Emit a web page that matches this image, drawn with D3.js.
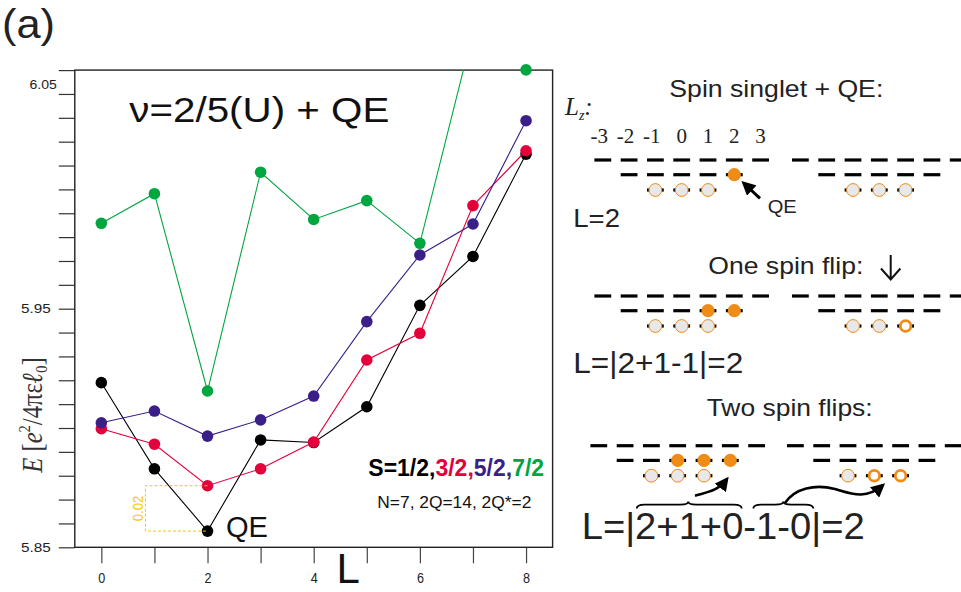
<!DOCTYPE html>
<html><head><meta charset="utf-8">
<script src="https://cdn.jsdelivr.net/npm/d3@7"></script>
<style>body{margin:0;background:#fff;} svg{display:block;}</style>
</head><body>
<svg id="c" width="961" height="592"></svg>
<script>
// ---------------- data ----------------
const Lvals = [0,1,2,3,4,5,6,7,8];
const spinLabels = ["1/2","3/2","5/2","7/2"];
const S12 = [5.9190,5.8829,5.8568,5.8950,5.8939,5.9089,5.9514,5.9719,6.0148];
const S32 = [5.8997,5.8932,5.8758,5.8829,5.8941,5.9285,5.9397,5.9932,6.0162];
const S52 = [5.9022,5.9071,5.8966,5.9034,5.9134,5.9446,5.9725,5.9855,6.0288];
const S72 = [5.9858,5.9982,5.9155,6.0072,5.9874,5.9953,5.9774,6.0660,6.0501];
const seriesColors = ["#000000","#e4003b","#3b1f88","#00a640"];
const yTickLabels = ["5.85","5.95","6.05"];
const xTickLabels = ["0","2","4","6","8"];

// diagram content
const lzNumbers = [-3,-2,-1,0,1,2,3];
const shells = [[-3,-2,-1,0,1,2,3],[-2,-1,0,1,2],[-1,0,1]];
const panelTitles = ["Spin singlet + QE:","One spin flip:","Two spin flips:"];
const panelLabels = ["L=2","L=|2+1-1|=2","L=|2+1+0-1-0|=2"];
const upFilled = [[2],[1,2],[0,1,2]];
const upLight = [[-1,0,1],[-1,0,1],[-1,0,1]];
const downLight = [[-1,0,1],[-1,0],[-1]];
const downHoles = [[],[1],[0,1]];

// ---------------- chart ----------------
const svg = d3.select("#c");
const SANS = "'Liberation Sans', Arial, Helvetica, sans-serif";
const SERIF = "'Liberation Serif', 'Times New Roman', serif";
const x = d3.scaleLinear().domain([-0.5,8.5]).range([74.8,552.6]);
const y = d3.scaleLinear().domain([5.85,6.05]).range([547.3,70.1]);
const [x0,x1] = x.range(), [yb,yt] = y.range();

svg.append("defs").append("clipPath").attr("id","plotclip")
  .append("rect").attr("x",x0).attr("y",yt).attr("width",x1-x0).attr("height",yb-yt);

// "(a)"
svg.append("text").attr("x",2).attr("y",38).attr("font-family",SANS).attr("font-size",40)
  .attr("textLength",53).attr("lengthAdjust","spacingAndGlyphs").attr("fill","#222").text("(a)");

// y axis
const yTicks = d3.range(0,21).map(i => +(5.85 + i*0.01).toFixed(2));
const yAx = svg.append("g").attr("transform",`translate(${x0},0)`)
  .call(d3.axisLeft(y).tickValues(yTicks).tickSize(16).tickPadding(8)
    .tickFormat(d => yTickLabels.includes(d.toFixed(2)) ? d.toFixed(2) : ""));
yAx.select(".domain").remove();
yAx.selectAll("line").attr("stroke","#333").attr("stroke-width",1.2);
yAx.selectAll("text").attr("font-family",SANS).attr("font-size",12).attr("fill","#222")
  .each(function(d){
    const t = d3.select(this);
    if (t.text() !== "") {
      t.attr("textLength", t.text()==="6.05" ? 27.3 : 29.7).attr("lengthAdjust","spacingAndGlyphs");
      if (t.text()==="6.05") t.attr("transform","translate(6,14.2)");
    }
  });

// x axis
const xAx = svg.append("g").attr("transform",`translate(0,${yb})`)
  .call(d3.axisBottom(x).tickValues(Lvals).tickSize(16).tickPadding(10)
    .tickFormat(d => xTickLabels.includes(String(d)) ? String(d) : ""));
xAx.select(".domain").remove();
xAx.selectAll("line").attr("stroke","#444").attr("stroke-width",1.2);
xAx.selectAll("text").attr("font-family",SANS).attr("font-size",14).attr("fill","#222")
  .each(function(){ const t=d3.select(this); if(t.text()!=="") t.attr("textLength",7).attr("lengthAdjust","spacingAndGlyphs"); });

// frame
svg.append("rect").attr("x",x0).attr("y",yt).attr("width",x1-x0).attr("height",yb-yt)
  .attr("fill","none").attr("stroke","#222").attr("stroke-width",1.4);

// axis titles
svg.append("text").attr("x",x(4.65)).attr("y",583).attr("text-anchor","middle")
  .attr("font-family",SANS).attr("font-size",42).attr("fill","#111").text("L");

const yl = svg.append("text").attr("transform","translate(41.5,415) rotate(-90) scale(0.85,1)")
  .attr("text-anchor","middle").attr("font-family",SERIF).attr("font-size",29).attr("fill","#333");
yl.append("tspan").attr("font-style","italic").text("E");
yl.append("tspan").text(" [");
yl.append("tspan").attr("font-style","italic").text("e");
yl.append("tspan").attr("font-size",17).attr("dy",-12).text("2");
yl.append("tspan").attr("dy",12).text("/4πε");
yl.append("tspan").attr("font-style","italic").attr("font-weight","bold").text("ℓ");
yl.append("tspan").attr("font-size",17).attr("dy",5).text("0");
yl.append("tspan").attr("dy",-5).text("]");

// series
const series = [S12,S32,S52,S72];
const line = d3.line().x((d,i)=>x(Lvals[i])).y(d=>y(d));
const g = svg.append("g");
series.forEach((vals,si) => {
  g.append("path").datum(vals).attr("d",line).attr("fill","none")
    .attr("stroke",seriesColors[si]).attr("stroke-width",1.1).attr("clip-path","url(#plotclip)");
  g.selectAll(null).data(vals.map((v,i)=>({L:Lvals[i],v})).filter(p => p.v <= y.domain()[1]+0.0005))
    .enter().append("circle").attr("cx",p=>x(p.L)).attr("cy",p=>y(p.v)).attr("r",5.8)
    .attr("fill",seriesColors[si]);
});

// title
svg.append("text").attr("x",129.3).attr("y",122).attr("font-family",SANS).attr("font-size",35)
  .attr("textLength",260).attr("lengthAdjust","spacingAndGlyphs").attr("fill","#111").text("ν=2/5(U) + QE");

// QE label
svg.append("text").attr("x",x(2)+18.5).attr("y",536.5).attr("font-family",SANS).attr("font-size",29)
  .attr("textLength",42).attr("lengthAdjust","spacingAndGlyphs").attr("fill","#111").text("QE");

// yellow gap bracket
const xb = x(2-1.17), ya = y(S32[2]), yc = y(S12[2]);
const yel = "#f2c800";
svg.append("path").attr("d",`M${x(2)},${ya}H${xb}V${yc}H${x(2)}`).attr("fill","none")
  .attr("stroke",yel).attr("stroke-width",1).attr("stroke-dasharray","3,2");
svg.append("text").attr("transform",`translate(${xb-2},${(ya+yc)/2}) rotate(-90)`)
  .attr("text-anchor","middle").attr("font-family",SANS).attr("font-size",15).attr("fill",yel)
  .attr("textLength",25.7).attr("lengthAdjust","spacingAndGlyphs")
  .text(d3.format(".2f")(S32[2]-S12[2]));

// legend
const lg = svg.append("text").attr("x",368.3).attr("y",475.7).attr("font-family",SANS)
  .attr("font-size",23).attr("font-weight","bold");
spinLabels.forEach((s,i)=>{
  lg.append("tspan").attr("fill",seriesColors[i]).text((i===0?"S=":"")+s+(i<3?",":""));
});
svg.append("text").attr("x",377.3).attr("y",508.3).attr("font-family",SANS).attr("font-size",17)
  .attr("textLength",154).attr("lengthAdjust","spacingAndGlyphs").attr("fill","#111").text("N=7, 2Q=14, 2Q*=2");

// ---------------- diagram ----------------
const ORANGE = "#ef8b17", TXT = "#222";
const defs = svg.select("defs");
defs.append("marker").attr("id","ah").attr("viewBox","0 0 10 10").attr("refX",8).attr("refY",5)
  .attr("markerWidth",14).attr("markerHeight",14).attr("markerUnits","userSpaceOnUse")
  .attr("orient","auto").append("path").attr("d","M0,0L10,5L0,10z").attr("fill","#000");

const panelTop = [160,296,445.7];
const rowGap = [0,14.7,30];
const centerL = [681.7,681.7,677.7];
const centerR = [879.3,879.3,874.3];
const titleX = [669.3,708.3,706.7], titleY=[96.7,274.3,416], titleW=[214,155,166];
const labX = [573.3,573.3,581.7], labY=[226.7,373.3,539.3], labFS=[25,30,36], labW=[46.7,170,283];
const sp = 26.3, dashHalf = 8.4;

panelTitles.forEach((t,i)=>{
  svg.append("text").attr("x",titleX[i]).attr("y",titleY[i]).attr("font-family",SANS)
    .attr("font-size",24).attr("textLength",titleW[i]).attr("lengthAdjust","spacingAndGlyphs")
    .attr("fill",TXT).text(t);
  svg.append("text").attr("x",labX[i]).attr("y",labY[i]).attr("font-family",SANS)
    .attr("font-size",labFS[i]).attr("textLength",labW[i]).attr("lengthAdjust","spacingAndGlyphs")
    .attr("fill",TXT).text(panelLabels[i]);
});

function group(cx, top, filled, light, holes){
  const gg = svg.append("g");
  shells.forEach((sh,s)=>{
    sh.forEach(lz=>{
      gg.append("line").attr("x1",cx+lz*sp-dashHalf).attr("x2",cx+lz*sp+dashHalf)
        .attr("y1",top+rowGap[s]).attr("y2",top+rowGap[s]).attr("stroke","#000").attr("stroke-width",3.2);
    });
  });
  filled.forEach(lz=>gg.append("circle").attr("cx",cx+lz*sp).attr("cy",top+rowGap[1]).attr("r",6.6).attr("fill",ORANGE));
  light.forEach(lz=>gg.append("circle").attr("cx",cx+lz*sp).attr("cy",top+rowGap[2]).attr("r",6.4)
    .attr("fill","#e8e8e8").attr("stroke",ORANGE).attr("stroke-width",1));
  holes.forEach(lz=>gg.append("circle").attr("cx",cx+lz*sp).attr("cy",top+rowGap[2]).attr("r",5.3)
    .attr("fill","#fff").attr("stroke",ORANGE).attr("stroke-width",2.8));
}
for (let i=0;i<3;i++){
  group(centerL[i], panelTop[i], upFilled[i], upLight[i], []);
  group(centerR[i], panelTop[i], [], downLight[i], downHoles[i]);
}

// Lz label
const lzT = svg.append("text").attr("x",565).attr("y",115).attr("font-family",SERIF).attr("font-size",25).attr("fill",TXT);
lzT.append("tspan").attr("font-style","italic").text("L");
lzT.append("tspan").attr("font-style","italic").attr("font-size",14).attr("dy",5).text("z");
lzT.append("tspan").attr("font-style","italic").attr("dy",-5).text(":");
lzNumbers.forEach(n=>{
  svg.append("text").attr("x",centerL[0]+n*sp+5.2).attr("y",143.3).attr("text-anchor","end")
    .attr("font-family",SERIF).attr("font-size",21).attr("fill",TXT).text(String(n));
});

// QE arrow + label
svg.append("line").attr("x1",760).attr("y1",198.3).attr("x2",743.5).attr("y2",183)
  .attr("stroke","#000").attr("stroke-width",3).attr("marker-end","url(#ah)");
svg.append("text").attr("x",767.7).attr("y",213.3).attr("font-family",SANS).attr("font-size",19)
  .attr("textLength",29).attr("lengthAdjust","spacingAndGlyphs").attr("fill",TXT).text("QE");

// down arrow
svg.append("path").attr("d","M890.7,255V279.5M881,268.5L890.7,279.5L900.4,268.5")
  .attr("fill","none").attr("stroke","#111").attr("stroke-width",2);

// braces
function brace(xa, xc, y0, h, xm){
  const ys = y0 - h*0.55, yp = y0 - h, r = 8;
  return `M${xa},${y0}Q${xa},${ys} ${xa+r},${ys}L${xm-r},${ys}Q${xm},${ys} ${xm},${yp}Q${xm},${ys} ${xm+r},${ys}L${xc-r},${ys}Q${xc},${ys} ${xc},${y0}`;
}
svg.append("path").attr("d",brace(636.7,741.7,508.5,7,688.3)).attr("fill","none").attr("stroke","#000").attr("stroke-width",1.8);
svg.append("path").attr("d",brace(753.3,813.3,508.5,7,783.3)).attr("fill","none").attr("stroke","#000").attr("stroke-width",1.8);

// curved arrows
svg.append("path").attr("d","M695,495.7C708,492 718,491 727,479").attr("fill","none")
  .attr("stroke","#000").attr("stroke-width",2.6).attr("marker-end","url(#ah)");
svg.append("path").attr("d","M785,503C795,488 815,484 835,489C852,494 866,500 883,485").attr("fill","none")
  .attr("stroke","#000").attr("stroke-width",2.6).attr("marker-end","url(#ah)");
</script>
</body></html>
